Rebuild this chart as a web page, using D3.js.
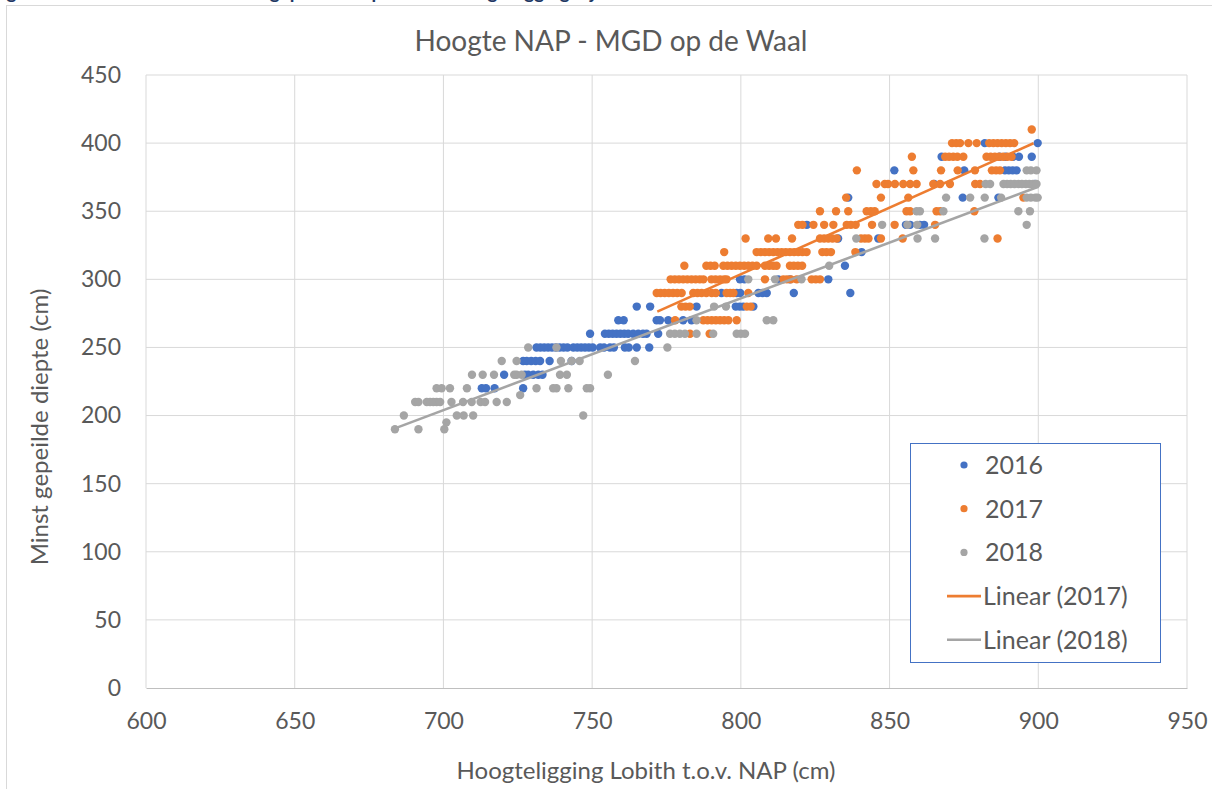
<!DOCTYPE html>
<html>
<head>
    <meta charset="utf-8">
    <title>Hoogte NAP - MGD op de Waal</title>
    <style type="text/css">
        body { margin: 0; background: #fff; }
        svg text { font-family: Lato, "Open Sans", sans-serif; fill: #595959; }
    </style>
</head>
<body>
<div id="chart"></div>
<script src="https://cdn.jsdelivr.net/npm/d3@7"></script>
<script type="text/javascript">
    // assen
    var xTicks = [600, 650, 700, 750, 800, 850, 900, 950];
    var yTicks = [0, 50, 100, 150, 200, 250, 300, 350, 400, 450];

    // per diepte (cm) de hoogtes Lobith (cm) -- 2016
    var rows2016 = [
        [220, [712.9, 714.3, 717.2, 726.8]],
        [230, [720.4, 727.4, 728.5, 730.2, 731.9, 733.3]],
        [240, [726.8, 728, 729.5, 731, 732.5, 735.7, 743.1]],
        [250, [731.3, 732.6, 733.9, 735.2, 736.5, 737.8, 739.1, 740.4, 741.7, 743.7, 745, 746.3, 747.6, 748.9, 750.2, 752.7, 754, 756, 757.3, 761, 762.3, 765, 769.2]],
        [260, [749.3, 754.3, 755.6, 756.9, 758.2, 759.5, 760.8, 762.1, 763.8, 765.5, 767.1, 768.3, 772.2]],
        [270, [758.8, 760.6, 771.7, 772.8, 775.6, 780.6, 783.4]],
        [280, [765, 769.5, 785.1, 798.3, 799.6, 800.8, 804.2]],
        [290, [793.5, 798.6, 799.8, 805.9, 807.3, 808.7, 817.8, 836.8]],
        [300, [799.7, 801.2, 812.6, 816.5, 829.4]],
        [310, [835]],
        [320, [840.6]],
        [330, [832.7, 846.2]],
        [340, [822.2, 855.5, 856.9, 860.2, 861.6]],
        [360, [836.1, 874.6, 886.6]],
        [370, [865, 898.9]],
        [380, [851.6, 875.1, 888.8, 890.1, 891.4, 892.7]],
        [390, [867.5, 887, 889, 891.5, 893.5, 897.8]],
        [400, [882, 899.8]]
    ];

    // 2017
    var rows2017 = [
        [260, [782.9, 789.5]],
        [270, [777.9, 787.4, 788.8, 790.2, 791.6, 793, 794.4, 795.8, 798.6]],
        [280, [780, 781.4, 782.8, 802, 803.3]],
        [290, [771.7, 773, 774.4, 775.8, 777.2, 778.6, 780.1, 784, 785.4, 786.8, 788.4, 790.2, 791.6, 795.2, 796.4, 797.5, 802.5]],
        [300, [776.4, 777.8, 779.2, 780.6, 782, 783.4, 784.8, 786.2, 787.4, 790.1, 791.5, 793, 794.4, 795.2, 808.1, 814.3, 815.5, 816.8, 818.8, 823.8, 825.2, 826.6]],
        [310, [781, 788.4, 789.8, 791.2, 794.1, 795.5, 796.9, 798.3, 799.7, 801.1, 802.5, 803.9, 805.3, 808.1, 809.5, 810.9, 812, 816.5, 817.8, 819.2, 820.6]],
        [320, [794.4, 805.3, 806.7, 808.1, 809.5, 810.9, 812.3, 813.7, 815.1, 816.5, 817.9, 819.3, 820.7, 822.1, 827.4, 828.8, 830.3, 838.5]],
        [330, [801.6, 809.2, 811.8, 817.2, 826.6, 828, 829.4, 830.8, 832.2, 840.4, 841.7, 842.9, 847.1, 854.4, 886.3]],
        [340, [819.3, 820.7, 824.4, 828, 831.1, 835.6, 837, 838.6, 844.1, 851.7, 865.3]],
        [350, [826.6, 832, 836.1, 842.3, 843.7, 845, 855.7, 856.9, 865.8, 867, 878.5]],
        [360, [835.4, 847.1, 856.3, 895]],
        [370, [845.6, 848.4, 849.5, 851.8, 854.6, 856.9, 859.1, 864.7, 867, 870.3, 878.8, 880.4]],
        [380, [839, 858, 867.3, 872.9, 878.7, 884.4, 885.8, 887.1]],
        [390, [857.5, 868.7, 870, 871.4, 872.8, 874.8, 882.6, 884, 885.4, 886.8, 888.2, 889.6, 891]],
        [400, [871, 872.4, 873.7, 876.5, 879.3, 883.5, 884.9, 886.3, 887.7, 889.1, 890.5, 891.9]],
        [410, [897.8]]
    ];

    // 2018
    var rows2018 = [
        [190, [683.7, 691.6, 700.3]],
        [195, [701]],
        [200, [686.7, 704.5, 706.8, 710, 747]],
        [210, [690.5, 691.6, 694.4, 695.5, 696.6, 697.7, 698.9, 702.7, 706.6, 709.5, 712.5, 714, 717.9, 721.3]],
        [215, [725.8]],
        [220, [697.7, 699.4, 702.2, 707.9, 731.3, 736.9, 738, 742, 748.2, 749.3]],
        [230, [709.6, 713.2, 717, 723.8, 724.6, 726.3, 739.2, 741.5, 755.3]],
        [240, [719.6, 724.6, 739.5, 743.1, 745.8, 764.4]],
        [250, [728.5, 738, 775.3]],
        [260, [776.2, 777.8, 779.5, 781.2, 785.1, 790.7, 798.6, 800, 801.4]],
        [270, [785.1, 808.7, 810.9]],
        [280, [791, 795]],
        [300, [802.5, 811.5, 820.4]],
        [310, [829.7]],
        [330, [838.8, 859.4, 865.3, 881.9]],
        [340, [847.5, 856, 859.3, 896.1]],
        [350, [859.1, 860.2, 868.1, 893.3, 897.2]],
        [360, [869, 877.1, 882, 887.5, 896.1, 897.5, 899, 899.8]],
        [370, [882.3, 883.8, 888.3, 889.5, 890.7, 892, 893.3, 894.5, 895.8, 897, 898.2, 899.4]],
        [380, [896.1, 897.5, 899.4]]
    ];

    var trend2017 = [[771.9, 276.3], [898.4, 399.9]];
    var trend2018 = [[683.7, 190.6], [900, 368]];

    var series = [
        {name: "2016", rows: rows2016, color: "#4472C4"},
        {name: "2017", rows: rows2017, color: "#ED7D31"},
        {name: "2018", rows: rows2018, color: "#A5A5A5"}
    ];
    var trends = [
        {name: "Linear (2017)", pts: trend2017, color: "#ED7D31"},
        {name: "Linear (2018)", pts: trend2018, color: "#A5A5A5"}
    ];

    var svg = d3.select('#chart')
        .append('svg')
        .attr('width', 1212)
        .attr('height', 789);

    // kader van de grafiek
    svg.append('rect')
        .attr('x', 6.5).attr('y', 5.5)
        .attr('width', 1230).attr('height', 800)
        .attr('fill', '#fff')
        .attr('stroke', '#d9d9d9');

    // bijschrift boven (grotendeels afgesneden, zoals in het origineel)
    svg.append('text')
        .attr('x', -9).attr('y', -1)
        .style('font-family', 'Lato, sans-serif')
        .style('font-weight', 'bold')
        .style('font-size', '19px')
        .style('fill', '#1F3864')
        .text('Figuur 3: Relatie tussen de minst gepeilde diepte en de hoogteligging bij Lobith');

    var x = d3.scaleLinear().domain([600, 950]).range([146, 1187]);
    var y = d3.scaleLinear().domain([0, 450]).range([688, 75]);

    // rasterlijnen
    svg.append('g')
        .selectAll('line.v')
        .data(xTicks)
        .enter()
        .append('line')
        .attr('x1', function (d) { return x(d); })
        .attr('x2', function (d) { return x(d); })
        .attr('y1', y(450)).attr('y2', y(0))
        .attr('stroke', '#d9d9d9').attr('stroke-width', 1);

    svg.append('g')
        .selectAll('line.h')
        .data(yTicks.slice(1))
        .enter()
        .append('line')
        .attr('x1', x(600)).attr('x2', x(950))
        .attr('y1', function (d) { return y(d); })
        .attr('y2', function (d) { return y(d); })
        .attr('stroke', '#d9d9d9').attr('stroke-width', 1);

    // x-as
    var xAxis = d3.axisBottom(x).tickValues(xTicks).tickSize(0).tickPadding(25);
    var gx = svg.append('g').attr('transform', 'translate(0,' + y(0) + ')').call(xAxis);
    gx.select('.domain').attr('stroke', '#bfbfbf');
    gx.selectAll('text').style('font-size', '23px').style('fill', '#595959')
        .style('font-family', 'Lato, sans-serif');

    // y-as
    var yAxis = d3.axisLeft(y).tickValues(yTicks).tickSize(0).tickPadding(25);
    var gy = svg.append('g').attr('transform', 'translate(' + x(600) + ',0)').call(yAxis);
    gy.select('.domain').remove();
    gy.selectAll('text').style('font-size', '23px').style('fill', '#595959')
        .style('font-family', 'Lato, sans-serif');

    // titels
    svg.append('text')
        .attr('x', 611).attr('y', 51)
        .attr('text-anchor', 'middle')
        .style('font-size', '28px')
        .text('Hoogte NAP - MGD op de Waal');

    svg.append('text')
        .attr('x', 646).attr('y', 779)
        .attr('text-anchor', 'middle')
        .style('font-size', '24px')
        .text('Hoogteligging Lobith t.o.v. NAP (cm)');

    svg.append('text')
        .attr('transform', 'translate(48,427) rotate(-90)')
        .attr('text-anchor', 'middle')
        .style('font-size', '24px')
        .text('Minst gepeilde diepte (cm)');

    // punten
    series.forEach(function (s) {
        var pts = [];
        s.rows.forEach(function (r) {
            r[1].forEach(function (h) { pts.push([h, r[0]]); });
        });
        svg.append('g')
            .selectAll('circle')
            .data(pts)
            .enter()
            .append('circle')
            .attr('cx', function (d) { return x(d[0]); })
            .attr('cy', function (d) { return y(d[1]); })
            .attr('r', 4.2)
            .attr('fill', s.color);
    });

    // trendlijnen
    var line = d3.line()
        .x(function (d) { return x(d[0]); })
        .y(function (d) { return y(d[1]); });
    trends.forEach(function (t) {
        svg.append('path')
            .attr('d', line(t.pts))
            .attr('fill', 'none')
            .attr('stroke', t.color)
            .attr('stroke-width', 2.6);
    });

    // legenda
    var lg = svg.append('g').attr('transform', 'translate(910,443)');
    lg.append('rect')
        .attr('x', 0.5).attr('y', 0.5)
        .attr('width', 250).attr('height', 219)
        .attr('fill', '#fff')
        .attr('stroke', '#4472C4').attr('stroke-width', 1);

    var items = series.map(function (s) { return {name: s.name, color: s.color, type: 'dot'}; })
        .concat(trends.map(function (t) { return {name: t.name, color: t.color, type: 'line'}; }));

    var item = lg.selectAll('g.item')
        .data(items)
        .enter()
        .append('g')
        .attr('transform', function (d, i) { return 'translate(0,' + (22 + i * 43.7) + ')'; });

    item.filter(function (d) { return d.type === 'dot'; })
        .append('circle')
        .attr('cx', 54).attr('cy', 0).attr('r', 3.6)
        .attr('fill', function (d) { return d.color; });

    item.filter(function (d) { return d.type === 'line'; })
        .append('line')
        .attr('x1', 37).attr('x2', 71).attr('y1', 0).attr('y2', 0)
        .attr('stroke', function (d) { return d.color; })
        .attr('stroke-width', 2.6);

    item.append('text')
        .attr('x', function (d) { return d.type === 'dot' ? 75 : 73; })
        .attr('y', 9)
        .style('font-size', '25px')
        .text(function (d) { return d.name; });
</script>
</body>
</html>
